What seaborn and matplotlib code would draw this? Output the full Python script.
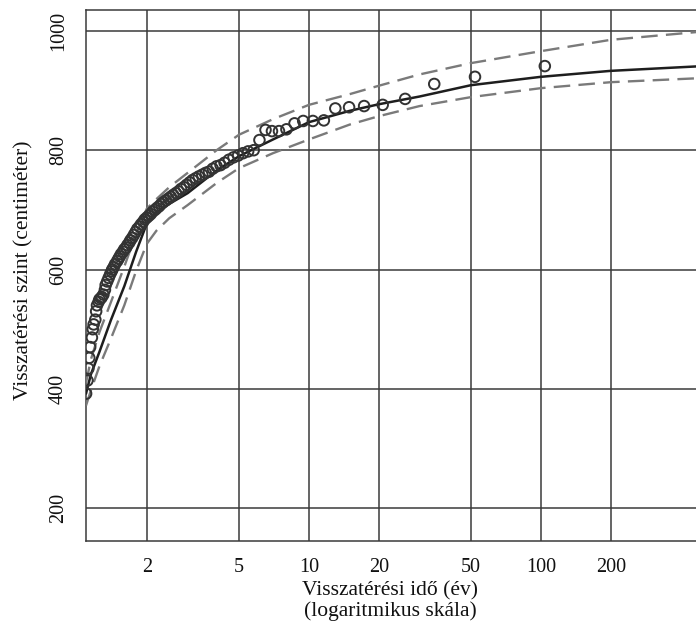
import pandas as pd
import matplotlib
matplotlib.use("Agg")
import matplotlib.pyplot as plt
import seaborn as sns

# =====================
# DATA
# =====================
# observed maxima: return period (years) and level (cm)
obs_period = [104, 52, 34.7, 26, 20.8, 17.3, 14.9, 13, 11.6, 10.4,
              9.45, 8.67, 8.0, 7.43, 6.93, 6.5, 6.12, 5.78, 5.47, 5.2,
              4.95, 4.73, 4.52, 4.33, 4.16, 4.0, 3.85, 3.71, 3.59, 3.47,
              3.35, 3.25, 3.15, 3.06, 2.97, 2.89, 2.81, 2.74, 2.67, 2.6,
              2.54, 2.48, 2.42, 2.36, 2.31, 2.26, 2.21, 2.17, 2.12, 2.08,
              2.04, 2.0, 1.96, 1.93, 1.89, 1.86, 1.82, 1.79, 1.76, 1.73,
              1.7, 1.68, 1.65, 1.63, 1.6, 1.58, 1.55, 1.53, 1.51, 1.49,
              1.46, 1.44, 1.42, 1.41, 1.39, 1.37, 1.35, 1.33, 1.32, 1.3,
              1.28, 1.27, 1.25, 1.24, 1.22, 1.21, 1.2, 1.18, 1.17, 1.16,
              1.14, 1.13, 1.12, 1.11, 1.095]
obs_level = [941, 923, 911, 886, 876, 874, 872, 870, 850, 849,
             849, 845, 835, 832, 832, 834, 817, 800, 798, 795,
             791, 788, 784, 779, 775, 773, 769, 764, 762, 759,
             756, 753, 750, 746, 742, 738, 735, 731, 728, 725,
             722, 719, 716, 713, 710, 706, 703, 700, 697, 693,
             690, 687, 684, 680, 676, 672, 668, 663, 658, 653,
             649, 645, 641, 637, 634, 630, 626, 622, 618, 614,
             609, 604, 600, 597, 592, 586, 580, 574, 566, 558,
             554, 552, 550, 546, 540, 530, 516, 508, 500, 486,
             470, 452, 434, 414, 392]

# fitted curve and confidence band
fit_period = [1.094, 1.15, 1.25, 1.4, 1.6, 1.8, 2.0, 2.2, 2.5, 3, 4, 5, 7,
              10, 15, 20, 30, 50, 100, 200, 500]
fit_level = [392, 425, 462, 515, 572, 630, 677, 696, 710, 728, 766, 790,
             818, 847, 866, 877, 890, 909, 923, 933, 941]
upper_level = [410, 450, 495, 545, 605, 660, 702, 718, 738, 762, 800, 826,
               852, 876, 894, 908, 927, 946, 966, 985, 999]
lower_level = [372, 398, 438, 484, 540, 598, 643, 665, 686, 708, 745, 770,
               795, 818, 843, 857, 874, 889, 904, 914, 921]

x_ticks = [2, 5, 10, 20, 50, 100, 200, 500]
x_tick_labels = ["2", "5", "10", "20", "50", "100", "200", ""]
y_ticks = [200, 400, 600, 800, 1000]

obs = pd.DataFrame({"period": obs_period, "level": obs_level})
curves = pd.DataFrame({"period": fit_period, "fit": fit_level,
                       "upper": upper_level, "lower": lower_level})

# =====================
# STYLE
# =====================
sns.set_theme(style="white")
plt.rcParams["font.family"] = ["Liberation Serif", "DejaVu Serif"]
line_col = "#3a3a3a"

fig = plt.figure(figsize=(6.96, 6.27), dpi=100)
ax = fig.add_axes([86 / 696, 86 / 627, 617 / 696, 531 / 627])

# =====================
# PLOT
# =====================
for col in ["upper", "lower"]:
    sns.lineplot(data=curves, x="period", y=col, ax=ax, color="#7a7a7a",
                 lw=1.7, zorder=3)
    ax.lines[-1].set_dashes((7, 3.5))
sns.lineplot(data=curves, x="period", y="fit", ax=ax, color="#1e1e1e",
             lw=1.8, zorder=4)
sns.scatterplot(data=obs, x="period", y="level", ax=ax, s=58,
                facecolor="none", edgecolor="#333333", linewidth=1.4,
                zorder=5)

ax.set_xscale("log")
ax.set_xlim(1.094, 500)
ax.set_ylim(145, 1035)
ax.set_xticks(x_ticks)
ax.set_xticklabels(x_tick_labels)
ax.minorticks_off()
ax.set_yticks(y_ticks)
ax.set_yticklabels([str(v) for v in y_ticks], rotation=90, va="center")

ax.grid(True, color=line_col, lw=1.1)
ax.set_axisbelow(True)
for sp in ax.spines.values():
    sp.set_color(line_col)
    sp.set_linewidth(1.1)
ax.tick_params(axis="both", length=0, labelsize=14.5, colors="#111111")
ax.tick_params(axis="x", pad=12)
ax.tick_params(axis="y", pad=13)

ax.set_xlabel("Visszatérési idő (év)\n(logaritmikus skála)", fontsize=15.5,
              linespacing=1.05, color="#111111")
ax.xaxis.set_label_coords(0.493, -0.075)
ax.set_ylabel("Visszatérési szint (centiméter)", fontsize=15.5,
              color="#111111")
ax.yaxis.set_label_coords(-0.085, 0.51)

plt.savefig("out.png", dpi=100)
plt.close()
